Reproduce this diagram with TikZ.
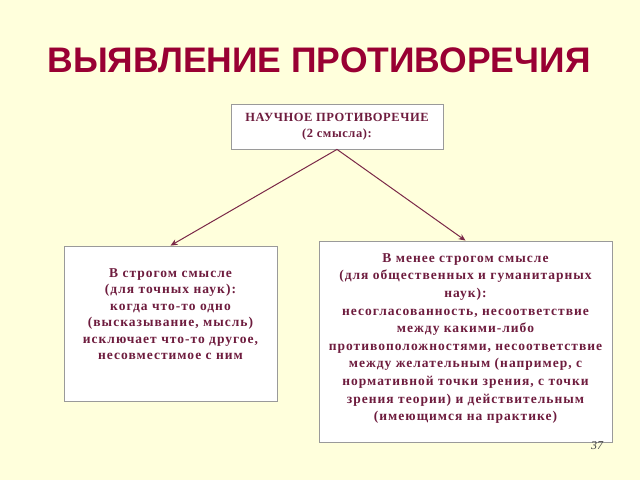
\documentclass[tikz,border=0pt]{standalone}
\usepackage{fontspec}
\setmainfont{Liberation Serif}
\newfontfamily\titlefont{Liberation Sans}
\newfontfamily\boxfont[LetterSpace=7.5]{Liberation Serif}
\newfontfamily\headfont[LetterSpace=4.5]{Liberation Serif}
\usetikzlibrary{arrows.meta}
\definecolor{paper}{HTML}{FFFFDC}
\definecolor{titlered}{HTML}{990033}
\definecolor{boxtext}{HTML}{6E1C3E}
\definecolor{arrowred}{HTML}{7A2848}
\definecolor{boxline}{HTML}{9A9A9A}
\tikzset{
	frame/.style={draw=boxline, fill=white, line width=0.8pt, inner sep=0pt},
	boxtxt/.style={text=boxtext, align=center, font=\boxfont\bfseries\fontsize{13.5}{16.5}\selectfont},
	link/.style={draw=arrowred, line width=1pt, -{Stealth[length=7pt,width=6pt]}}
}

\begin{document}
\begin{tikzpicture}[x=1pt, y=-1pt]
				\fill[paper] (0,0) rectangle (640,480);
				\useasboundingbox (0,0) rectangle (640,480);
				
				\node[text=titlered, font=\titlefont\bfseries\fontsize{35.5}{40}\selectfont] (title) at (319,60) {ВЫЯВЛЕНИЕ ПРОТИВОРЕЧИЯ};
				
				\begin{scope}
					\node[frame, minimum width=212pt, minimum height=45pt] (top) at (337,126.5) {};
					\node[frame, minimum width=213pt, minimum height=155pt] (left) at (170.5,323.5) {};
					\node[frame, minimum width=293pt, minimum height=201pt] (right) at (465.5,341.5) {};
				\end{scope}
				
				\node[boxtxt, font=\headfont\bfseries\fontsize{12.5}{16.5}\selectfont] (toptxt) at (top) {НАУЧНОЕ ПРОТИВОРЕЧИЕ\\(2 смысла):};
				\node[boxtxt, anchor=north] (lefttxt) at (170.5,265) {В строгом смысле\\(для точных наук):\\когда что-то одно\\(высказывание, мысль)\\исключает что-то другое,\\несовместимое с ним};
				\node[boxtxt, font=\boxfont\bfseries\fontsize{13.5}{17.6}\selectfont, anchor=north] (righttxt) at (465.5,250) {В менее строгом смысле\\(для общественных и гуманитарных\\наук):\\несогласованность, несоответствие\\между какими-либо\\противоположностями, несоответствие\\между желательным (например, с\\нормативной точки зрения, с точки\\зрения теории) и действительным\\(имеющимся на практике)};
				
				\draw[link] (top.south) -- (left.north);
				\draw[link] (top.south) -- (right.north);
				
				\node[text=black!75, font=\itshape\fontsize{12}{14}\selectfont] (pagenum) at (597,446) {37};
\end{tikzpicture}
\end{document}
